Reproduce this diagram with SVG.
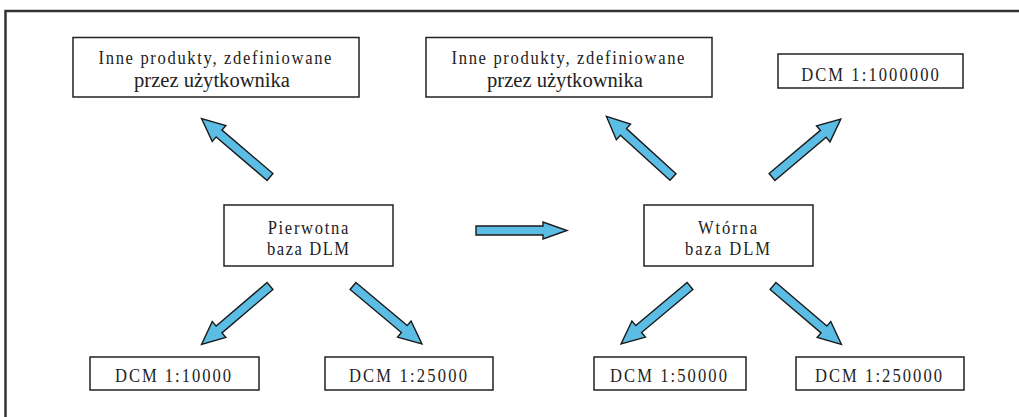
<svg xmlns="http://www.w3.org/2000/svg" width="1019" height="417" viewBox="0 0 1019 417">
<style>
.box{fill:#fff;stroke:#222;stroke-width:1.5}
.t{font-family:"Liberation Serif","Times New Roman",serif;font-size:19.5px;fill:#222;text-anchor:middle}
.n{font-size:20px}
.arr{fill:#5bbde4;stroke:#1a1a1a;stroke-width:1.4;stroke-linejoin:miter}
.frame{fill:none;stroke:#333;stroke-width:2.5}
</style>
<defs>
<path id="arr" d="M0,-4.5 H67 V-10.5 L90,0 L67,10.5 V4.5 H0 Z"/>
</defs>
<path class="frame" d="M5.5,417 V11 H1019"/>
<g id="connectors">
<use href="#arr" class="arr" transform="translate(270,177) rotate(-139.5)"/>
<use href="#arr" class="arr" transform="translate(673,177) rotate(-137.7)"/>
<use href="#arr" class="arr" transform="translate(772,177) rotate(-40.1)"/>
<path class="arr" d="M476,226 H543 V222 L567,230.5 L543,239 V235 H476 Z"/>
<use href="#arr" class="arr" transform="translate(270,286) rotate(139.5)"/>
<use href="#arr" class="arr" transform="translate(353,286) rotate(40)"/>
<use href="#arr" class="arr" transform="translate(690,286) rotate(140)"/>
<use href="#arr" class="arr" transform="translate(773,286) rotate(40.5)"/>
</g>
<g id="inne1">
<rect class="box" x="73" y="37.5" width="286" height="59.5"/>
<text class="t" transform="matrix(0.85 0 0 1 215 0)" x="0" y="64" textLength="274">Inne produkty, zdefiniowane</text>
<text class="t n" x="212" y="86.5" textLength="156" lengthAdjust="spacingAndGlyphs">przez użytkownika</text>
</g>
<g id="inne2">
<rect class="box" x="426" y="37.5" width="286" height="59.5"/>
<text class="t" transform="matrix(0.85 0 0 1 568 0)" x="0" y="64" textLength="274">Inne produkty, zdefiniowane</text>
<text class="t n" x="565" y="86.5" textLength="156" lengthAdjust="spacingAndGlyphs">przez użytkownika</text>
</g>
<g id="dcm1000000">
<rect class="box" x="778" y="54" width="185" height="34"/>
<text class="t" transform="matrix(0.85 0 0 1 870 0)" x="0" y="81" textLength="162">DCM 1:1000000</text>
</g>
<g id="pierwotna">
<rect class="box" x="224" y="205" width="169" height="61"/>
<text class="t" transform="matrix(0.85 0 0 1 308 0)" x="0" y="234" textLength="95">Pierwotna</text>
<text class="t" transform="matrix(0.85 0 0 1 308 0)" x="0" y="255.5" textLength="96.5">baza DLM</text>
</g>
<g id="wtorna">
<rect class="box" x="644" y="205" width="169" height="61"/>
<text class="t" transform="matrix(0.85 0 0 1 727.5 0)" x="0" y="234" textLength="69.5">Wtórna</text>
<text class="t" transform="matrix(0.85 0 0 1 727.5 0)" x="0" y="255.5" textLength="100">baza DLM</text>
</g>
<g id="dcm10000">
<rect class="box" x="90" y="357" width="169" height="33"/>
<text class="t" transform="matrix(0.85 0 0 1 173 0)" x="0" y="382" textLength="136.5">DCM 1:10000</text>
</g>
<g id="dcm25000">
<rect class="box" x="325" y="357" width="168" height="33"/>
<text class="t" transform="matrix(0.85 0 0 1 408 0)" x="0" y="382" textLength="139">DCM 1:25000</text>
</g>
<g id="dcm50000">
<rect class="box" x="594" y="357" width="152" height="33"/>
<text class="t" transform="matrix(0.85 0 0 1 668.5 0)" x="0" y="382" textLength="137.5">DCM 1:50000</text>
</g>
<g id="dcm250000">
<rect class="box" x="796" y="357" width="168" height="33"/>
<text class="t" transform="matrix(0.85 0 0 1 878.5 0)" x="0" y="382" textLength="149.5">DCM 1:250000</text>
</g>
</svg>
